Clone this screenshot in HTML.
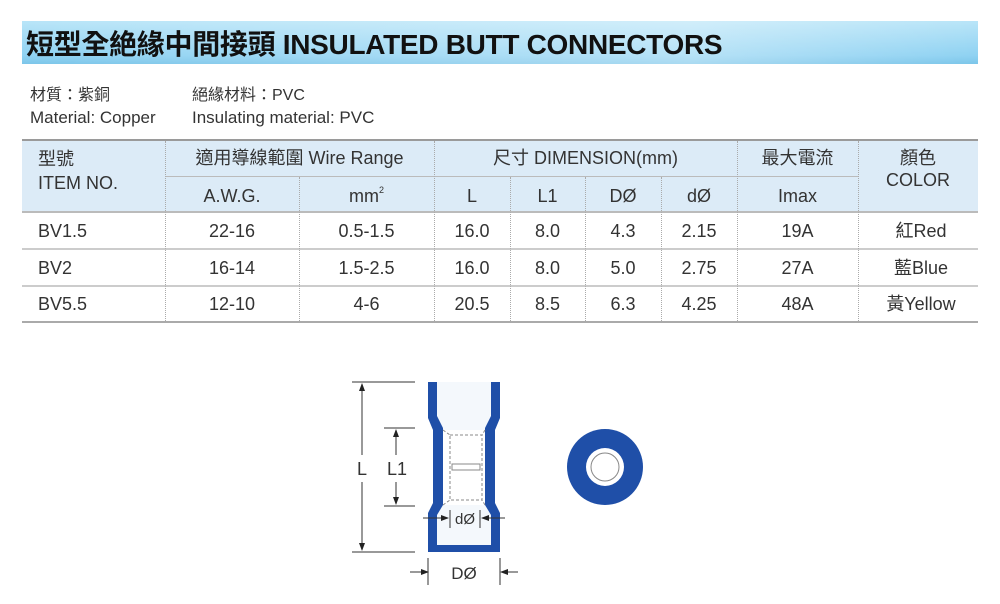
<!DOCTYPE html>
<html><head><meta charset="utf-8"><style>
body{margin:0;width:1000px;height:604px;background:#fff;position:relative;font-family:"Liberation Sans","Noto Sans CJK TC",sans-serif;color:#333;overflow:hidden}
.t{position:absolute;white-space:nowrap;line-height:22px}
#bar{position:absolute;left:22px;top:21px;width:956px;height:43px;background:linear-gradient(180deg,#b9e5f8 0%,#8fd2f2 80%,#7cc6ea 100%);}
#bar2{position:absolute;left:22px;top:21px;width:956px;height:43px;background:linear-gradient(90deg,rgba(255,255,255,0) 0%,rgba(255,255,255,.35) 70%,rgba(255,255,255,0) 100%)}
.c{position:absolute;text-align:center;font-size:18px;white-space:nowrap;line-height:22px;height:22px}
.vl{position:absolute;border-left:1px dotted #aaa;width:0}
.hl{position:absolute;height:0}
</style></head><body>
<div id="bar"></div><div id="bar2"></div>
<div class="t" style="left:26px;top:28px;font-size:28px;line-height:34px;font-weight:bold;color:#111;letter-spacing:-0.3px">短型全絶緣中間接頭 INSULATED BUTT CONNECTORS</div>
<div class="t" style="left:30px;top:85px;font-size:16px">材質：紫銅</div>
<div class="t" style="left:192px;top:85px;font-size:16px">絕緣材料：PVC</div>
<div class="t" style="left:30px;top:107px;font-size:17px">Material: Copper</div>
<div class="t" style="left:192px;top:107px;font-size:17px">Insulating material: PVC</div>

<div style="position:absolute;left:22px;top:140px;width:956px;height:72px;background:#dcebf7"></div>
<div class="hl" style="left:22px;top:139px;width:956px;border-top:2px solid #9a9a9a"></div>
<div class="hl" style="left:165px;top:176px;width:693px;border-top:1px solid #bbb"></div>
<div class="hl" style="left:22px;top:211px;width:956px;border-top:2px solid #bbb"></div>
<div class="hl" style="left:22px;top:248px;width:956px;border-top:2px solid #ccc"></div>
<div class="hl" style="left:22px;top:285px;width:956px;border-top:2px solid #ccc"></div>
<div class="hl" style="left:22px;top:321px;width:956px;border-top:2px solid #aaa"></div>

<div class="vl" style="left:165px;top:141px;height:180px"></div>
<div class="vl" style="left:434px;top:141px;height:180px"></div>
<div class="vl" style="left:737px;top:141px;height:180px"></div>
<div class="vl" style="left:858px;top:141px;height:180px"></div>
<div class="vl" style="left:299px;top:177px;height:144px"></div>
<div class="vl" style="left:510px;top:177px;height:144px"></div>
<div class="vl" style="left:585px;top:177px;height:144px"></div>
<div class="vl" style="left:661px;top:177px;height:144px"></div>

<div class="t" style="left:38px;top:148px;font-size:18px">型號</div>
<div class="t" style="left:38px;top:172px;font-size:18px">ITEM NO.</div>
<div class="c" style="left:165px;width:269px;top:147px">適用導線範圍 Wire Range</div>
<div class="c" style="left:434px;width:303px;top:147px">尺寸 DIMENSION(mm)</div>
<div class="c" style="left:737px;width:121px;top:147px">最大電流</div>
<div class="c" style="left:858px;width:120px;top:147px">顏色</div>
<div class="c" style="left:858px;width:120px;top:169px">COLOR</div>
<div class="c" style="left:165px;width:134px;top:185px">A.W.G.</div>
<div class="c" style="left:299px;width:135px;top:185px">mm<sup style="font-size:9px;vertical-align:9px;line-height:0">2</sup></div>
<div class="c" style="left:434px;width:76px;top:185px">L</div>
<div class="c" style="left:510px;width:75px;top:185px">L1</div>
<div class="c" style="left:585px;width:76px;top:185px">DØ</div>
<div class="c" style="left:661px;width:76px;top:185px">dØ</div>
<div class="c" style="left:737px;width:121px;top:185px">Imax</div>

<div class="t" style="left:38px;top:220px;font-size:18px">BV1.5</div>
<div class="c" style="left:165px;width:134px;top:220px">22-16</div>
<div class="c" style="left:299px;width:135px;top:220px">0.5-1.5</div>
<div class="c" style="left:434px;width:76px;top:220px">16.0</div>
<div class="c" style="left:510px;width:75px;top:220px">8.0</div>
<div class="c" style="left:585px;width:76px;top:220px">4.3</div>
<div class="c" style="left:661px;width:76px;top:220px">2.15</div>
<div class="c" style="left:737px;width:121px;top:220px">19A</div>
<div class="c" style="left:858px;width:126px;top:220px">紅Red</div>

<div class="t" style="left:38px;top:257px;font-size:18px">BV2</div>
<div class="c" style="left:165px;width:134px;top:257px">16-14</div>
<div class="c" style="left:299px;width:135px;top:257px">1.5-2.5</div>
<div class="c" style="left:434px;width:76px;top:257px">16.0</div>
<div class="c" style="left:510px;width:75px;top:257px">8.0</div>
<div class="c" style="left:585px;width:76px;top:257px">5.0</div>
<div class="c" style="left:661px;width:76px;top:257px">2.75</div>
<div class="c" style="left:737px;width:121px;top:257px">27A</div>
<div class="c" style="left:858px;width:126px;top:257px">藍Blue</div>

<div class="t" style="left:38px;top:293px;font-size:18px">BV5.5</div>
<div class="c" style="left:165px;width:134px;top:293px">12-10</div>
<div class="c" style="left:299px;width:135px;top:293px">4-6</div>
<div class="c" style="left:434px;width:76px;top:293px">20.5</div>
<div class="c" style="left:510px;width:75px;top:293px">8.5</div>
<div class="c" style="left:585px;width:76px;top:293px">6.3</div>
<div class="c" style="left:661px;width:76px;top:293px">4.25</div>
<div class="c" style="left:737px;width:121px;top:293px">48A</div>
<div class="c" style="left:858px;width:126px;top:293px">黃Yellow</div>

<svg style="position:absolute;left:0;top:0" width="1000" height="604">
<defs><marker id="a" markerWidth="8" markerHeight="8" refX="7" refY="4" orient="auto"><path d="M0,1 L8,4 L0,7z" fill="#222"/></marker></defs>
<path d="M437,382 H491 V416 L485,428 V505 L491,515 V546 H437 V515 L443,505 V428 L437,416Z" fill="#f4f8fc"/>
<polygon points="428,382 437,382 437,416 443,428 443,505 437,515 437,552 428,552 428,513 433,503 433,430 428,418" fill="#1f4fa8"/>
<polygon points="500,382 491,382 491,416 485,428 485,505 491,515 491,552 500,552 500,513 495,503 495,430 500,418" fill="#1f4fa8"/>
<rect x="428" y="545" width="72" height="7" fill="#1f4fa8"/>
<rect x="443" y="430" width="42" height="75" fill="#fff"/>
<rect x="450" y="435" width="32" height="65" fill="none" stroke="#888" stroke-dasharray="3,2"/>
<path d="M443,430 L450,435 M485,430 L482,435 M443,505 L450,500 M485,505 L482,500" stroke="#888" stroke-dasharray="3,2"/>
<rect x="452" y="464" width="28" height="6" fill="none" stroke="#888"/>
<g stroke="#333" stroke-width="1" fill="none">
<path d="M352,382 H415 M352,552 H415 M384,428 H415 M384,506 H415"/>
<path d="M362,455 V384" marker-end="url(#a)"/><path d="M362,482 V550" marker-end="url(#a)"/>
<path d="M396,455 V430" marker-end="url(#a)"/><path d="M396,482 V504" marker-end="url(#a)"/>
<path d="M410,572 H428" marker-end="url(#a)"/><path d="M518,572 H501" marker-end="url(#a)"/>
<path d="M428,558 V585 M500,558 V585"/>
<path d="M423,518 H448" marker-end="url(#a)"/><path d="M505,518 H482" marker-end="url(#a)"/>
<path d="M450,510 V528 M480,510 V528"/>
</g>
<text x="362" y="475" font-size="18" text-anchor="middle" fill="#333" font-family="Liberation Sans">L</text>
<text x="397" y="475" font-size="18" text-anchor="middle" fill="#333" font-family="Liberation Sans">L1</text>
<text x="465" y="524" font-size="15" text-anchor="middle" fill="#333" font-family="Liberation Sans">dØ</text>
<text x="464" y="579" font-size="17" text-anchor="middle" fill="#333" font-family="Liberation Sans">DØ</text>
<circle cx="605" cy="467" r="38" fill="#1f4fa8"/>
<circle cx="605" cy="467" r="19" fill="#fff"/>
<circle cx="605" cy="467" r="14" fill="none" stroke="#888"/>
</svg>
</body></html>
